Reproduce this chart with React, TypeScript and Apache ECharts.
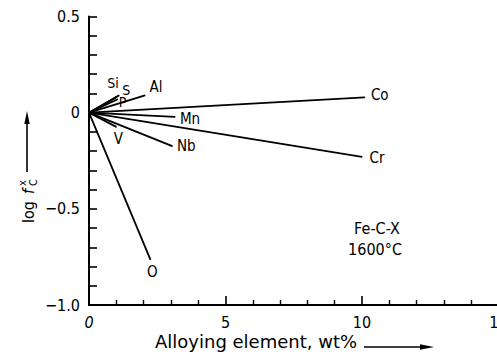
import React, { useEffect, useRef } from 'react';
import * as echarts from 'echarts';

// Alloying elements X in Fe-C-X at 1600 °C: end points of each line (wt%, log f_C^X)
const elements = ['Co', 'Cr', 'Mn', 'Nb', 'V', 'O', 'Si', 'S', 'P', 'Al'];
const endWt = [10.1, 10.0, 3.15, 3.05, 1.0, 2.25, 1.1, 1.0, 1.05, 2.05];
const endLogF = [0.08, -0.23, -0.022, -0.174, -0.074, -0.764, 0.09, 0.08, 0.07, 0.09];

const xTicks = [0, 5, 10, 15];
const xTickText = ['{i|0}', '5', '10', '15'];
const yTicks = [0.5, 0, -0.5, -1.0];
const yTickText = ['0.5', '0', '\u22120.5', '\u22121.0'];

const annotation = ['Fe-C-X', '1600°C'];
const xName = 'Alloying element, wt%';

// label placement (style only)
const labelOffsets: Record<string, number[]> = {
  Co: [15, -2],
  Cr: [15, 1],
  Mn: [15, 2],
  Nb: [14, 0],
  V: [2, 12],
  O: [2, 12],
  Si: [-6, -12],
  S: [10, -7],
  P: [5, 3],
  Al: [11, -8],
};

const FONT = '"DejaVu Sans Condensed", "DejaVu Sans", sans-serif';
const FONT_WIDE = '"DejaVu Sans", sans-serif';

function fmt(v: number, ticks: number[], texts: string[]) {
  for (let i = 0; i < ticks.length; i++) {
    if (Math.abs(v - ticks[i]) < 1e-6) return texts[i];
  }
  return '';
}

export default function App() {
  const ref = useRef<HTMLDivElement>(null);
  useEffect(() => {
    if (!ref.current) return;
    const chart = echarts.init(ref.current, null, { renderer: 'svg' });
    const series = elements.map((el, i) => ({
      type: 'line',
      name: el,
      silent: true,
      symbol: 'circle',
      symbolSize: 1,
      showSymbol: true,
      itemStyle: { color: '#000' },
      lineStyle: { color: '#000', width: 1.8 },
      data: [
        [0, 0],
        {
          value: [endWt[i], endLogF[i]],
          label: {
            show: true,
            formatter: el,
            position: 'inside',
            align: 'center',
            verticalAlign: 'middle',
            offset: labelOffsets[el],
            color: '#000',
            fontFamily: FONT,
            fontSize: ['Si', 'S', 'P'].includes(el) ? 14 : 15,
            lineHeight: 15,
          },
        },
      ],
    }));
    chart.setOption({
      animation: false,
      backgroundColor: '#fff',
      textStyle: { fontFamily: FONT, color: '#000' },
      grid: { left: 89, top: 16.5, width: 409.5, height: 288.5, outerBoundsMode: 'none', containLabel: false },
      xAxis: {
        type: 'value',
        min: 0,
        max: 15,
        interval: 5,
        axisLine: { show: true, onZero: false, lineStyle: { color: '#000', width: 2 } },
        axisTick: { show: true, inside: true, length: 9, lineStyle: { color: '#000', width: 1.6 } },
        minorTick: { show: true, splitNumber: 5, length: 5, lineStyle: { color: '#000', width: 1.4 } },
        splitLine: { show: false },
        axisLabel: {
          margin: 9,
          color: '#000',
          fontFamily: FONT,
          fontSize: 16,
          formatter: (v: number) => fmt(v, xTicks, xTickText),
          rich: { i: { fontStyle: 'italic', fontFamily: FONT, fontSize: 16, color: '#000' } },
        },
      },
      yAxis: {
        type: 'value',
        min: -1,
        max: 0.5,
        interval: 0.5,
        axisLine: { show: true, onZero: false, lineStyle: { color: '#000', width: 2 } },
        axisTick: { show: true, inside: true, length: 8, lineStyle: { color: '#000', width: 1.6 } },
        minorTick: { show: true, splitNumber: 5, length: 8, lineStyle: { color: '#000', width: 1.6 } },
        splitLine: { show: false },
        axisLabel: {
          margin: 9,
          color: '#000',
          fontFamily: FONT,
          fontSize: 16,
          formatter: (v: number) => fmt(v, yTicks, yTickText),
        },
      },
      graphic: [
        // y-axis name, rotated
        {
          type: 'group',
          x: 28,
          y: 223,
          rotation: Math.PI / 2,
          children: [
            { type: 'text', x: 0, y: 0, style: { text: 'log', font: `16px ${FONT}`, fill: '#000', textVerticalAlign: 'middle' } },
            { type: 'text', x: 29, y: 0, style: { text: 'f', font: `italic 16px ${FONT}`, fill: '#000', textVerticalAlign: 'middle' } },
            { type: 'text', x: 37, y: 5, style: { text: 'C', font: `11px ${FONT}`, fill: '#000', textVerticalAlign: 'middle' } },
            { type: 'text', x: 37, y: -6, style: { text: 'x', font: `11px ${FONT}`, fill: '#000', textVerticalAlign: 'middle' } },
          ],
        },
        { type: 'line', shape: { x1: 27, y1: 172, x2: 27, y2: 120 }, style: { stroke: '#000', lineWidth: 1.6 } },
        { type: 'polygon', shape: { points: [[27, 111], [24.3, 124], [29.7, 124]] }, style: { fill: '#000' } },
        // x-axis name
        {
          type: 'text',
          x: 155,
          y: 341,
          style: { text: xName, font: `18px ${FONT_WIDE}`, fill: '#000', textVerticalAlign: 'middle', textAlign: 'left' },
        },
        { type: 'line', shape: { x1: 364, y1: 347, x2: 424, y2: 347 }, style: { stroke: '#000', lineWidth: 1.6 } },
        { type: 'polygon', shape: { points: [[434, 347], [420, 344.3], [420, 349.7]] }, style: { fill: '#000' } },
        // annotation
        {
          type: 'text',
          x: 377,
          y: 228,
          style: { text: annotation[0], font: `16px ${FONT}`, fill: '#000', textAlign: 'center', textVerticalAlign: 'middle' },
        },
        {
          type: 'text',
          x: 375,
          y: 249,
          style: { text: annotation[1], font: `16px ${FONT}`, fill: '#000', textAlign: 'center', textVerticalAlign: 'middle' },
        },
      ],
      series,
    });
    return () => chart.dispose();
  }, []);
  return (
    <div
      ref={ref}
      style={{ position: 'fixed', left: 0, top: 0, width: 497, height: 355, background: '#fff' }}
    />
  );
}
